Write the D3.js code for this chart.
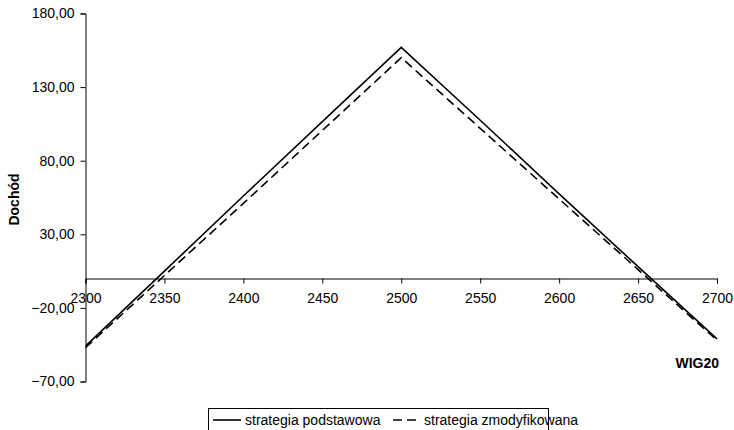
<!DOCTYPE html>
<html>
<head>
<meta charset="utf-8">
<script src="https://cdn.jsdelivr.net/npm/d3@7"></script>
<style>
  html, body { margin: 0; padding: 0; background: #fff; }
  svg { display: block; font-family: "Liberation Sans", Arial, sans-serif; }
</style>
</head>
<body>
<svg id="chart" width="734" height="430"></svg>
<script>
// WIG20 index level at expiry
const wig20 = [2300, 2350, 2400, 2450, 2500, 2550, 2600, 2650, 2700];
// Profit of the basic strategy
const podstawowa = [-46, 5, 56, 106.5, 157, 107.5, 57.5, 8, -41];
// Profit of the modified strategy
const zmodyfikowana = [-47, 2, 51, 100.5, 150, 102, 54, 6, -42];

const xTicks = [2300, 2350, 2400, 2450, 2500, 2550, 2600, 2650, 2700];
const yTicks = [-70, -20, 30, 80, 130, 180];

const seriesNames = ["strategia podstawowa", "strategia zmodyfikowana"];

const svg = d3.select("#chart");
const plot = { left: 85.5, right: 717, top: 13.5, bottom: 381.5 };

const x = d3.scaleLinear().domain([2300, 2700]).range([plot.left, plot.right]);
const y = d3.scaleLinear().domain([-70, 180]).range([plot.bottom, plot.top]);

const fmt = v => d3.format(".2f")(v).replace(".", ",");

// Y axis
const yAxis = svg.append("g")
  .attr("transform", `translate(${plot.left},0)`)
  .call(d3.axisLeft(y).tickValues(yTicks).tickFormat(fmt).tickSize(5).tickPadding(6));
yAxis.select(".domain").attr("stroke", "#000");
yAxis.selectAll("text").attr("font-size", 14).attr("fill", "#000");

// X axis crossing at zero
const xAxis = svg.append("g")
  .attr("transform", `translate(0,${Math.round(y(0)) + 0.5})`)
  .call(d3.axisBottom(x).tickValues(xTicks).tickFormat(d3.format("d")).tickSize(5).tickSizeOuter(5).tickPadding(10));
xAxis.select(".domain").attr("stroke", "#000");
xAxis.selectAll("text").attr("font-size", 14).attr("fill", "#000");

// Axis titles
svg.append("text")
  .attr("transform", `translate(19,${(plot.top + plot.bottom) / 2 + 2}) rotate(-90)`)
  .attr("text-anchor", "middle")
  .attr("font-size", 14).attr("font-weight", "bold")
  .text("Dochód");

svg.append("text")
  .attr("x", 719).attr("y", 368)
  .attr("text-anchor", "end")
  .attr("font-size", 14).attr("font-weight", "bold")
  .text("WIG20");

// Series lines
const line = d3.line().x((d, i) => x(wig20[i])).y(d => y(d));

svg.append("path")
  .datum(podstawowa)
  .attr("fill", "none").attr("stroke", "#000").attr("stroke-width", 1.6)
  .attr("d", line);

svg.append("path")
  .datum(zmodyfikowana)
  .attr("fill", "none").attr("stroke", "#000").attr("stroke-width", 1.6)
  .attr("stroke-dasharray", "9,5")
  .attr("d", line);

// Legend
const lg = svg.append("g");
lg.append("rect")
  .attr("x", 208.5).attr("y", 408.5).attr("width", 340).attr("height", 26)
  .attr("fill", "#fff").attr("stroke", "#000");
lg.append("line").attr("x1", 213).attr("x2", 241).attr("y1", 420).attr("y2", 420)
  .attr("stroke", "#000").attr("stroke-width", 1.6);
lg.append("text").attr("x", 245).attr("y", 425).attr("font-size", 14).text(seriesNames[0]);
lg.append("line").attr("x1", 393).attr("x2", 421).attr("y1", 420).attr("y2", 420)
  .attr("stroke", "#000").attr("stroke-width", 1.6).attr("stroke-dasharray", "9,5");
lg.append("text").attr("x", 424).attr("y", 425).attr("font-size", 14).text(seriesNames[1]);
</script>
</body>
</html>
